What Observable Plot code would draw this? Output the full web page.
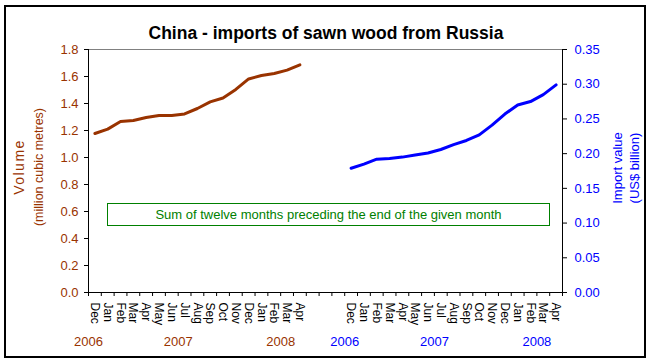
<!DOCTYPE html>
<html>
<head>
<meta charset="utf-8">
<script src="https://cdn.jsdelivr.net/npm/d3@7"></script>
<script src="https://cdn.jsdelivr.net/npm/@observablehq/plot@0.6"></script>
<style>
  html, body { margin: 0; padding: 0; background: #fff; }
  #chart { position: relative; width: 651px; height: 361px; }
  #note {
    position: absolute; left: 107px; top: 203px; width: 443px; height: 23px;
    border: 1.5px solid #008000; box-sizing: border-box;
    color: #008000; font: 13px "Liberation Sans", Arial, sans-serif;
    display: flex; align-items: center; justify-content: center; white-space: nowrap;
  }
</style>
</head>
<body>
<div id="chart"></div>
<script>
const title = "China - imports of sawn wood from Russia";
const noteText = "Sum of twelve months preceding the end of the given month";
const months = ["Dec","Jan","Feb","Mar","Apr","May","Jun","Jul","Aug","Sep","Oct","Nov","Dec","Jan","Feb","Mar","Apr"];
// Volume, million cubic metres (12-month rolling sum)
const volume = [1.178,1.210,1.267,1.274,1.296,1.311,1.311,1.323,1.363,1.412,1.441,1.504,1.582,1.607,1.622,1.647,1.686];
// Import value, US$ billion (12-month rolling sum)
const importValue = [0.179,0.185,0.192,0.193,0.195,0.198,0.201,0.206,0.213,0.219,0.227,0.241,0.257,0.270,0.275,0.285,0.299];
// Year tick labels: year and the category boundary they sit at
const years = ["2006","2007","2008"];
const yearAt = [0, 7, 15];
const leftTicks = [0,0.2,0.4,0.6,0.8,1.0,1.2,1.4,1.6,1.8];
const rightTicks = [0,0.05,0.10,0.15,0.20,0.25,0.30,0.35];
const leftMax = 1.8, rightMax = 0.35;

const BROWN = "#993300", BLUE = "#0000FF";
const gap = 3;                     // empty categories between the two panels
const offset = months.length + gap; // start of the right-hand series
const nCat = offset + months.length;
const k = leftMax / rightMax;

const monthLabels = [
  ...months.map((m, i) => ({m, x: i + 0.5})),
  ...months.map((m, i) => ({m, x: offset + i + 0.5}))
];
const yearLabels = [
  ...years.map((y, i) => ({y, x: yearAt[i], c: BROWN})),
  ...years.map((y, i) => ({y, x: offset + yearAt[i], c: BLUE}))
];

const plot = Plot.plot({
  width: 651, height: 361,
  marginLeft: 88, marginRight: 89, marginTop: 49, marginBottom: 69,
  style: {fontFamily: "'Liberation Sans', Arial, sans-serif", fontSize: "13px", background: "white"},
  x: {domain: [0, nCat], axis: null},
  y: {domain: [0, leftMax], axis: null},
  marks: [
    Plot.ruleY([leftMax], {stroke: "#808080", strokeWidth: 1}),
    Plot.axisY({anchor: "left", ticks: leftTicks, tickSize: 4, tickPadding: 6, stroke: "black", fill: BROWN,
      tickFormat: d3.format(".1f"), label: null, fontSize: 13}),
    Plot.axisY({anchor: "right", ticks: rightTicks.map(v => v * k), tickSize: 4, tickPadding: 8, stroke: "black", fill: BLUE,
      tickFormat: d => (d / k).toFixed(2), label: null, fontSize: 13}),
    Plot.axisX({anchor: "bottom", ticks: d3.range(nCat + 1), tickSize: 4, stroke: "black", fill: "none", label: null}),
    Plot.ruleX([0], {stroke: "black"}),
    Plot.ruleX([nCat], {stroke: "black"}),
    Plot.ruleY([0], {stroke: "black"}),
    Plot.line(volume, {x: (d, i) => i + 0.5, y: d => d, stroke: BROWN, strokeWidth: 3}),
    Plot.line(importValue, {x: (d, i) => offset + i + 0.5, y: d => d * k, stroke: BLUE, strokeWidth: 3}),
    Plot.text(monthLabels, {x: "x", frameAnchor: "bottom", dy: 10, text: "m", rotate: 90,
      textAnchor: "start", lineAnchor: "middle", fontSize: 12, fill: "black"}),
    Plot.text(yearLabels, {x: "x", frameAnchor: "bottom", dy: 49, text: "y", fill: "c",
      lineAnchor: "middle", fontSize: 13})
  ]
});

const svg = d3.select(plot);
svg.append("rect").attr("x", 5).attr("y", 6).attr("width", 640).attr("height", 351)
  .attr("fill", "none").attr("stroke", "black").attr("stroke-width", 2);
svg.append("text").attr("x", 326).attr("y", 39).attr("text-anchor", "middle")
  .attr("font-size", 17.5).attr("font-weight", "bold").attr("fill", "black").text(title);
const axTitle = (x, y, txt, color, size, ls) => svg.append("text")
  .attr("transform", `translate(${x},${y}) rotate(-90)`).attr("text-anchor", "middle")
  .attr("dominant-baseline", "central").attr("font-size", size).attr("letter-spacing", ls)
  .attr("fill", color).text(txt);
axTitle(19, 167, "Volume", BROWN, 14, 1.5);
axTitle(38.5, 167, "(million cubic metres)", BROWN, 12.5, 0);
axTitle(617, 168, "Import value", BLUE, 13, 0);
axTitle(634, 168, "(US$ billion)", BLUE, 13, 0);

const chart = document.getElementById("chart");
chart.appendChild(plot);
const note = document.createElement("div");
note.id = "note";
note.textContent = noteText;
chart.appendChild(note);
</script>
</body>
</html>
